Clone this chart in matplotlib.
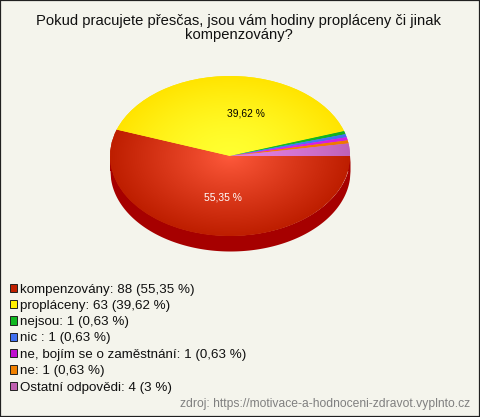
import numpy as np
import matplotlib
matplotlib.use("Agg")
import matplotlib.pyplot as plt
from matplotlib.patches import Patch, Rectangle
from matplotlib.colors import LinearSegmentedColormap

title = "Pokud pracujete přesčas, jsou vám hodiny propláceny či jinak\nkompenzovány?"
categories = ["kompenzovány", "propláceny", "nejsou", "nic ", "ne, bojím se o zaměstnání", "ne", "Ostatní odpovědi"]
counts = [88, 63, 1, 1, 1, 1, 4]
percent_labels = ["55,35 %", "39,62 %", "0,63 %", "0,63 %", "0,63 %", "0,63 %", "3 %"]
legend_colors = ["#C02000", "#FFF000", "#10B820", "#4070F0", "#C010D0", "#F08000", "#C060B0"]
center_colors = ["#FF5A3C", "#FFFF30", "#10C828", "#5080FF", "#E020F0", "#FF8000", "#E080E0"]
edge_colors = ["#BE1E00", "#FFE400", "#10B020", "#4070F0", "#D020E0", "#F07800", "#BE62B8"]
shade_power = [0.9, 1.5, 1, 1, 1, 1, 1.6]
side_color = "#A60000"
source = "zdroj: https://motivace-a-hodnoceni-zdravot.vyplnto.cz"

W, H = 480, 417
BG = "#F4F4EC"
plt.rcParams["font.family"] = ["Liberation Sans", "DejaVu Sans"]
fig = plt.figure(figsize=(W / 100, H / 100), dpi=100, facecolor=BG)
fig.add_artist(Rectangle((0, 0), 1, 1, transform=fig.transFigure, fill=False, ec="#202020", lw=1.6))

ax = fig.add_axes([110 / W, (H - 236) / H, 240 / W, 160 / H])
depth = 15 / 80

# side wall
xs = np.linspace(-1, 1, 400)
ax.fill_between(xs, -np.sqrt(1 - xs**2) - depth, -np.sqrt(1 - xs**2) + 0.01, color=side_color, lw=0, clip_on=False, zorder=1)
ax.fill_between(xs, -depth, 0, color=side_color, lw=0, clip_on=False, zorder=1)

wedges, _ = ax.pie(counts, startangle=0, counterclock=False, radius=1, colors=edge_colors,
                   wedgeprops=dict(lw=0, clip_on=False, zorder=2))
for w in wedges:
    w.set_zorder(2)

# radial shading of each slice
gx, gy = np.meshgrid(np.linspace(-1, 1, 400), np.linspace(1, -1, 320))
rr = np.clip(np.hypot(gx, gy), 0, 1)
for w, c0, c1, p in zip(wedges, center_colors, edge_colors, shade_power):
    cmap = LinearSegmentedColormap.from_list("g", [c0, c1])
    im = ax.imshow(rr**p, extent=(-1, 1, -1, 1), cmap=cmap, vmin=0, vmax=1, aspect="auto",
                   zorder=3, interpolation="bilinear")
    im.set_clip_path(w)

ax.set_xlim(-1, 1)
ax.set_ylim(-1, 1)
ax.set_aspect("auto")
ax.axis("off")

def px(x, y):
    return x / W, 1 - y / H

fig.text(*px(245.7, 113), percent_labels[1], color="#000000", fontsize=7.4, ha="center", va="center", zorder=5)
fig.text(*px(222.7, 198), percent_labels[0], color="#FFFFFF", fontsize=7.4, ha="center", va="center", zorder=5)

fig.text(*px(239, 20.5), title.split("\n")[0], fontsize=10.65, ha="center", va="center", color="#101010")
fig.text(*px(239, 35.5), title.split("\n")[1], fontsize=10.65, ha="center", va="center", color="#101010")

handles = [Patch(facecolor=c, edgecolor="#202020", lw=0.7) for c in legend_colors]
labels = [f"{n}: {v} ({p})" for n, v, p in zip(categories, counts, percent_labels)]
leg = fig.legend(handles, labels, loc="upper left", bbox_to_anchor=px(9.5, 283.5), bbox_transform=fig.transFigure,
                 frameon=False, fontsize=9.6, handlelength=0.58, handleheight=0.58, handletextpad=0.18,
                 labelspacing=0.325, borderaxespad=0, borderpad=0)
for t in leg.get_texts():
    t.set_color("#101010")

fig.text(*px(470, 404), source, fontsize=8.75, ha="right", va="center", color="#808080")
fig.savefig("out.png", dpi=100, facecolor=BG)
